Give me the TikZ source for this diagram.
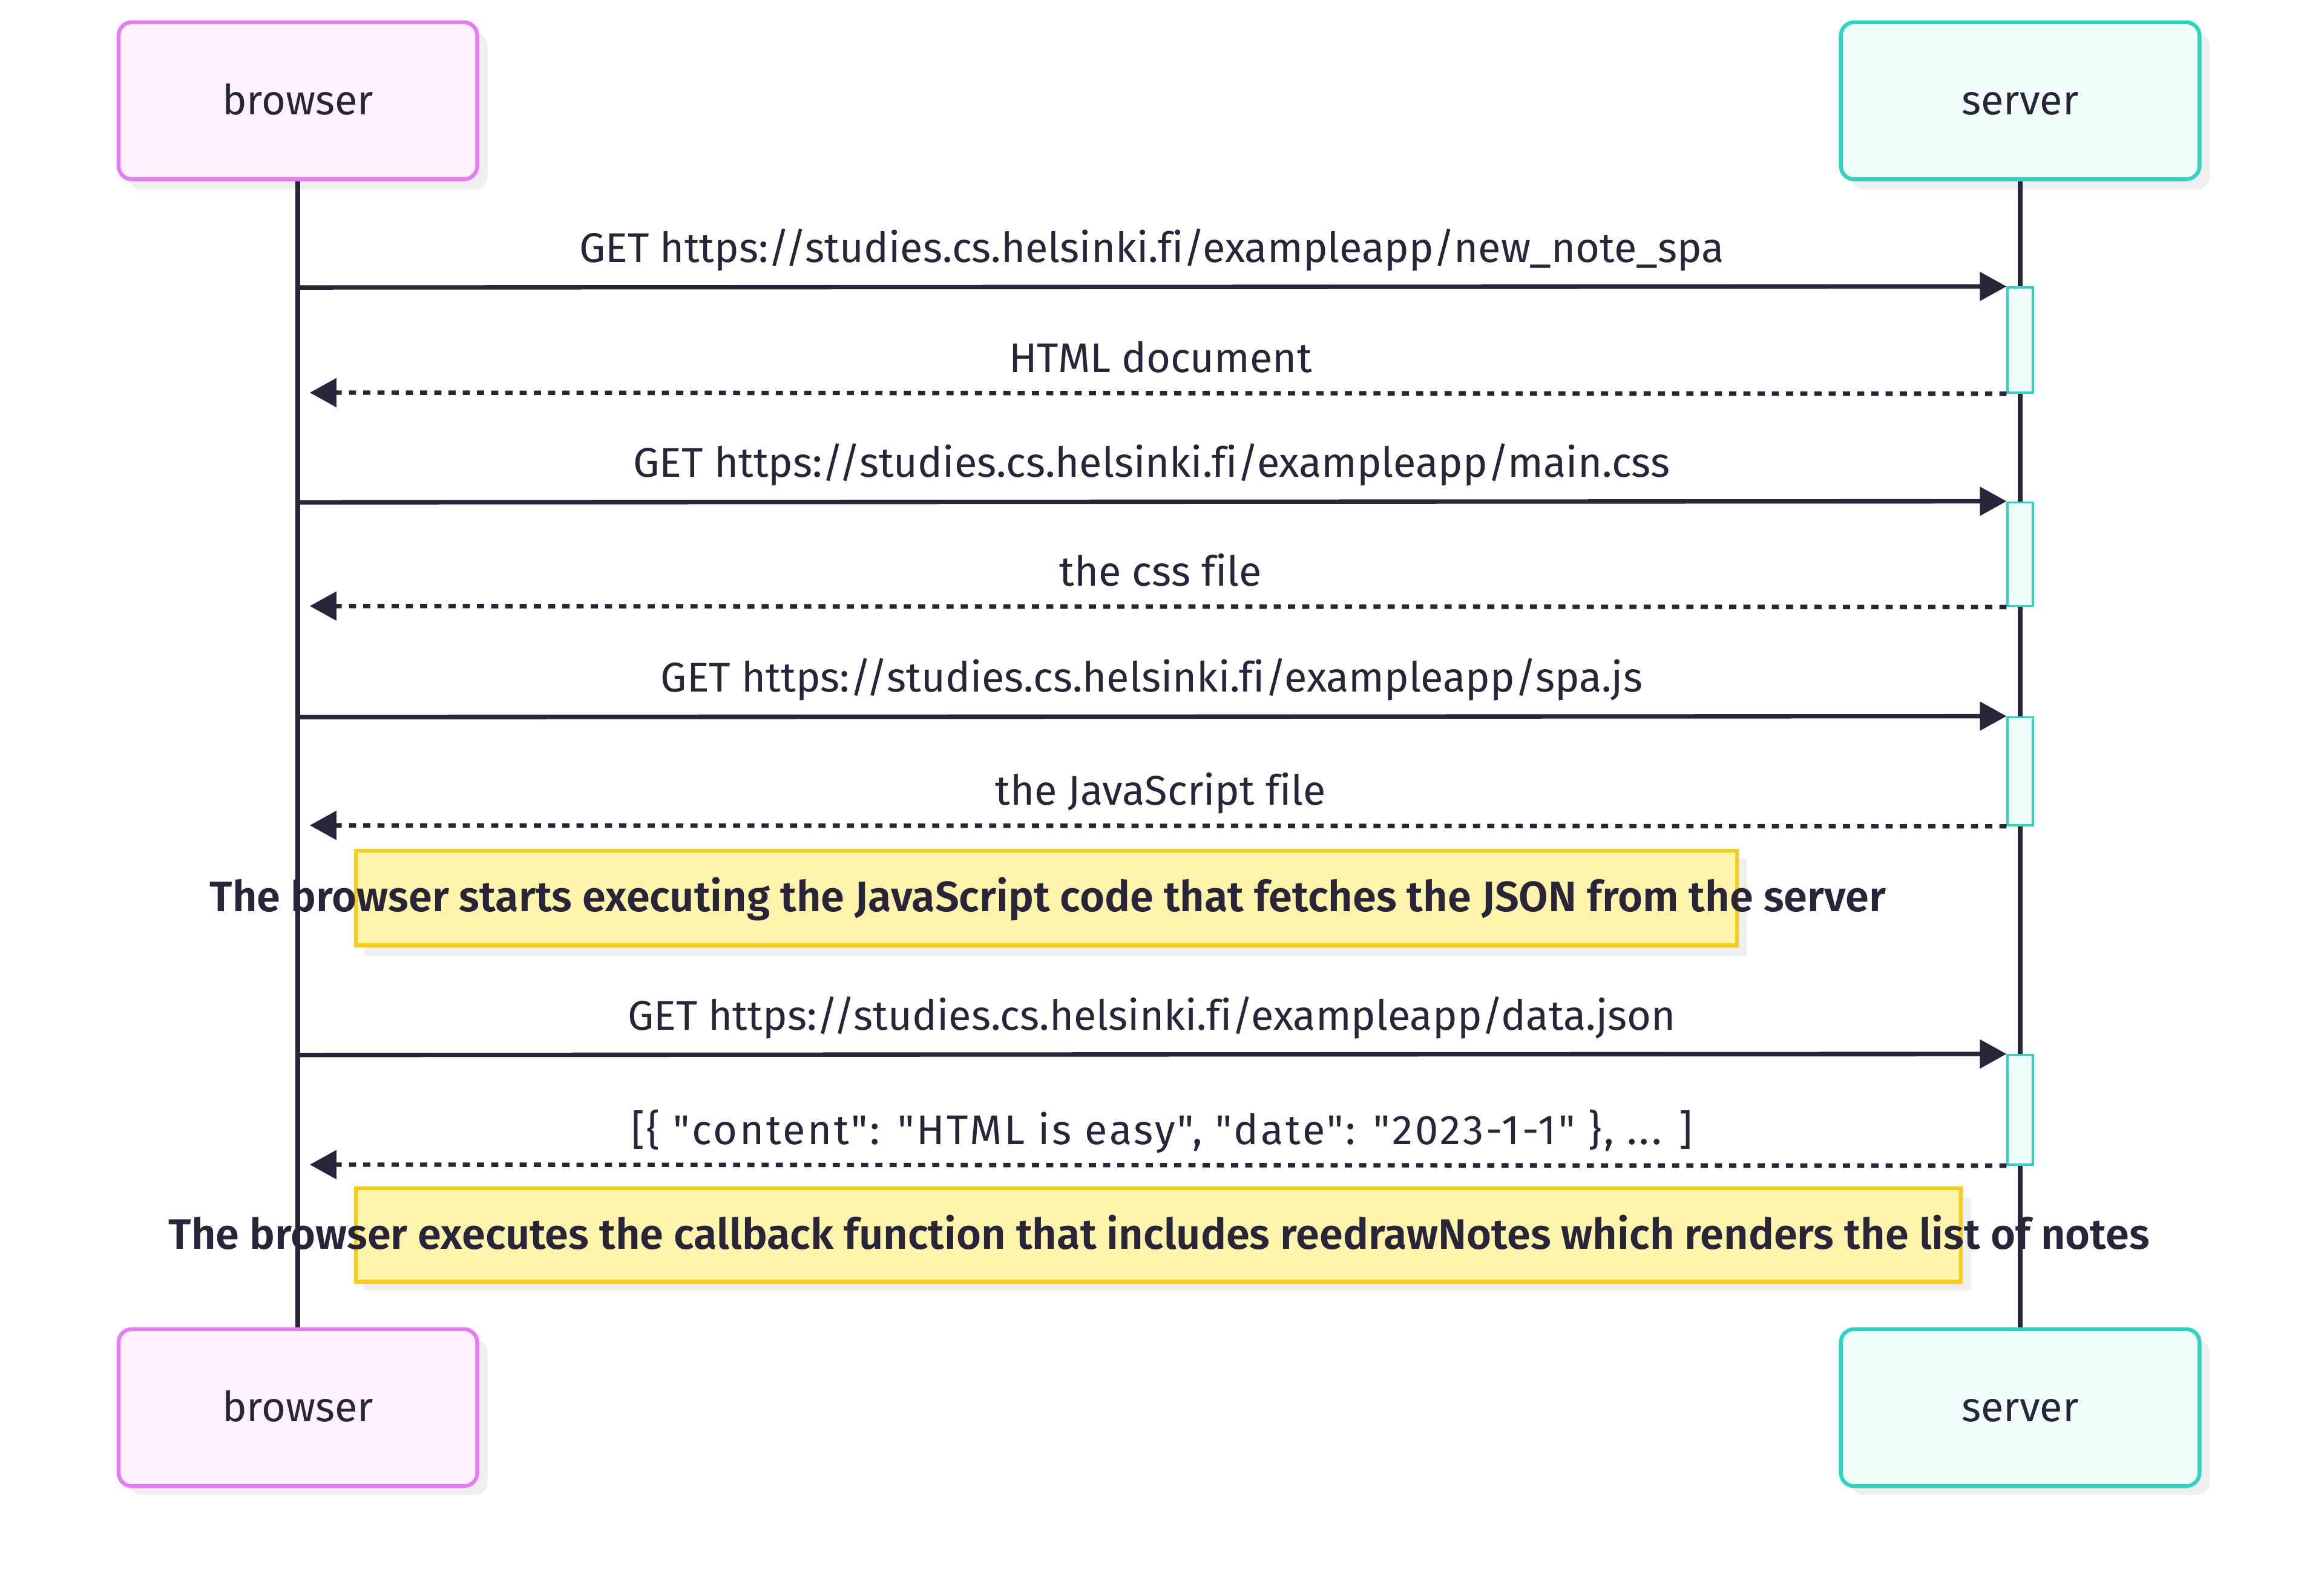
\documentclass[tikz,border=0pt]{standalone}
\usepackage{fontspec}
\setmainfont{Fira Sans}[Ligatures={TeXOff,NoCommon}]
\newfontfamily\notefont{Fira Sans}[UprightFont=* SemiBold,Ligatures={TeXOff,NoCommon}]
\usetikzlibrary{arrows.meta}
\definecolor{txt}{HTML}{28243A}
\definecolor{lnc}{HTML}{28243A}
\definecolor{bstroke}{HTML}{E879F9}
\definecolor{bfill}{HTML}{FDF1FD}
\definecolor{sstroke}{HTML}{2DD4BF}
\definecolor{sfill}{HTML}{F0FDFA}
\definecolor{nstroke}{HTML}{FACC15}
\definecolor{nfill}{HTML}{FEF4AB}
\definecolor{shadow}{HTML}{EFEFEF}
\tikzset{
  actorb/.style={draw=bstroke,fill=bfill,line width=2.6pt,rounded corners=9pt,minimum width=242pt,minimum height=106pt,text=txt,font=\fontsize{28}{32}\selectfont,text height=19pt,text depth=0pt},
  actors/.style={actorb,draw=sstroke,fill=sfill},
  life/.style={draw=lnc,line width=3.2pt},
  msg/.style={draw=lnc,line width=3pt,-{Triangle[length=18pt,width=19pt]}},
  rmsg/.style={msg,dash pattern=on 4.8pt off 4.8pt},
  lbl/.style={text=txt,font=\fontsize{28}{32}\selectfont,anchor=base,inner sep=0pt},
  act/.style={draw=sstroke,fill=sfill,line width=1.4pt,minimum width=17pt,inner sep=0pt},
  notebox/.style={draw=nstroke,fill=nfill,line width=2.6pt,inner sep=0pt},
  notetxt/.style={text=txt,font=\notefont\fontsize{28.7}{32}\selectfont,anchor=base,inner sep=0pt},
}
\begin{document}
\begin{tikzpicture}[x=1pt,y=-1pt]
\useasboundingbox (0,0) rectangle (1568,1071);
% shadows
\fill[shadow,rounded corners=9pt] (87,22) rectangle (329,128);
\fill[shadow,rounded corners=9pt] (1249,22) rectangle (1491,128);
\fill[shadow,rounded corners=9pt] (87,904) rectangle (329,1009);
\fill[shadow,rounded corners=9pt] (1249,904) rectangle (1491,1009);
% lifelines
\coordinate (bt) at (201,121); \coordinate (bb) at (201,897);
\coordinate (st) at (1363,121); \coordinate (sb) at (1363,897);
\draw[life] (bt) -- (bb);
\draw[life] (st) -- (sb);
% actors
\node[actorb] (b1) at (201,68) {browser};
\node[actors] (s1) at (1363,68) {server};
\node[actorb] (b2) at (201,950) {browser};
\node[actors] (s2) at (1363,950) {server};
% activations
\node[act,minimum height=71pt] (a1) at (1363,229.5) {};
\node[act,minimum height=70pt] (a2) at (1363,374) {};
\node[act,minimum height=73pt] (a3) at (1363,520.5) {};
\node[act,minimum height=74pt] (a4) at (1363,749) {};
% message coordinates on browser lifeline
\coordinate (m1) at (201,194); \coordinate (r1) at (209,265);
\coordinate (m2) at (201,339); \coordinate (r2) at (209,409);
\coordinate (m3) at (201,484); \coordinate (r3) at (209,557);
\coordinate (m4) at (201,712); \coordinate (r4) at (209,786);
\draw[msg] (m1) -- (a1.north west);
\draw[rmsg] (a1.south west) -- (r1);
\draw[msg] (m2) -- (a2.north west);
\draw[rmsg] (a2.south west) -- (r2);
\draw[msg] (m3) -- (a3.north west);
\draw[rmsg] (a3.south west) -- (r3);
\draw[msg] (m4) -- (a4.north west);
\draw[rmsg] (a4.south west) -- (r4);
% labels
\node[lbl] (l1) at (777,177) {GET https://studies.cs.helsinki.fi/exampleapp/new\_note\_spa};
\node[lbl] (l2) at (783,251.4) {HTML document};
\node[lbl] (l3) at (777,322) {GET https://studies.cs.helsinki.fi/exampleapp/main.css};
\node[lbl] (l4) at (783,395.4) {the css file};
\node[lbl] (l5) at (777,467) {GET https://studies.cs.helsinki.fi/exampleapp/spa.js};
\node[lbl] (l6) at (783,543.4) {the JavaScript file};
\node[lbl] (l7) at (777,695) {GET https://studies.cs.helsinki.fi/exampleapp/data.json};
\node[lbl] (l8) at (784,772.4) {\addfontfeature{LetterSpace=5.5}[\{ "content": "HTML is easy", "date": "2023-1-1" \}, ... ]};
% notes
\fill[shadow] (246,580) rectangle (1179,645);
\node[notebox,minimum width=932pt,minimum height=64pt] (n1) at (706,606) {};
\node[notetxt] (t1) at (707,615) {The browser starts executing the JavaScript code that fetches the JSON from the server};
\fill[shadow] (246,808) rectangle (1330,871);
\node[notebox,minimum width=1083pt,minimum height=63pt] (n2) at (781.5,833.5) {};
\node[notetxt] (t2) at (782,843) {The browser executes the callback function that includes reedrawNotes which renders the list of notes};
\end{tikzpicture}
\end{document}
